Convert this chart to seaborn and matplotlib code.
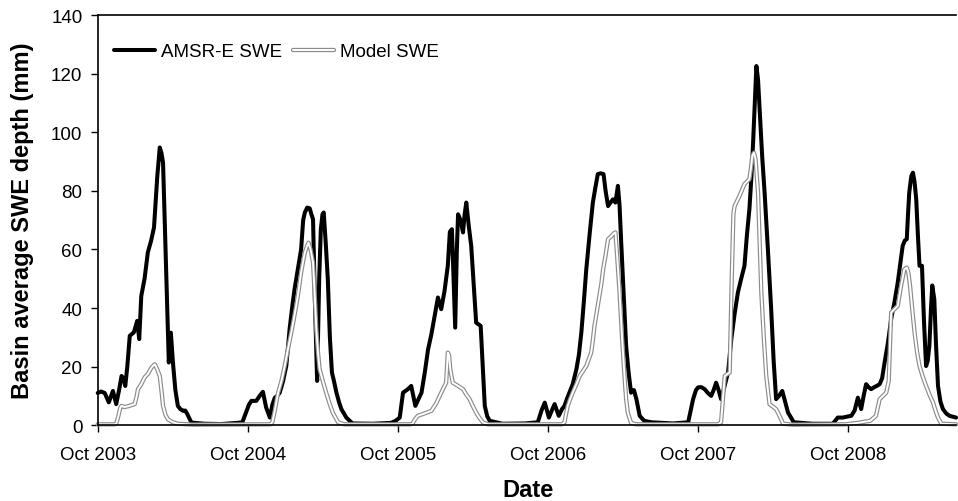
import pandas as pd
import matplotlib
matplotlib.use('Agg')
import matplotlib.pyplot as plt
import matplotlib.patheffects as pe
import seaborn as sns

# hari sejak 1 Okt 2003 dan nilai SWE rata-rata DAS (mm)
amsr_day = [0, 8, 17, 27, 37, 45, 52, 58, 63, 67, 72, 78, 88, 96, 101, 106, 114, 122, 130, 137,
            145, 151, 155, 159, 163, 167, 173, 178, 183, 189, 195, 201, 208, 213, 218, 228, 260, 300,
            340, 352,
            360, 368, 374, 386, 394, 402, 410, 419, 425, 431, 437, 443, 451, 459, 467, 473, 479, 487,
            495, 500, 504, 510, 516, 520, 524, 529, 534, 539, 543, 547, 550, 555, 560, 565, 570, 575,
            581, 587, 593, 605, 620, 670, 714, 725,
            735, 743, 755, 763, 773, 788, 796, 804, 812, 820, 828, 836, 844, 852, 857, 862, 866, 870,
            874, 877, 883, 889, 893, 897, 903, 909, 915, 921, 926, 932, 937, 942, 948, 954, 985, 1040,
            1071, 1080,
            1088, 1098, 1105, 1112, 1122, 1130, 1136, 1142, 1148, 1156, 1165, 1171, 1177, 1183, 1189,
            1197, 1205, 1211, 1217, 1224, 1231, 1236, 1242, 1248, 1254, 1260, 1266, 1270, 1274, 1280,
            1286, 1292, 1298, 1305, 1311, 1319, 1330, 1347, 1400, 1437,
            1449, 1456, 1461, 1469, 1477, 1485, 1493, 1499, 1505, 1511, 1517, 1525, 1534, 1542, 1550,
            1558, 1566, 1574, 1580, 1586, 1591, 1595, 1599, 1603, 1607, 1611, 1617, 1623, 1631, 1639,
            1645, 1651, 1658, 1666, 1673, 1680, 1694, 1740, 1789, 1801, 1813,
            1826, 1834, 1842, 1850, 1858, 1864, 1870, 1876, 1882, 1890, 1897, 1903, 1909, 1915, 1923,
            1931, 1939, 1947, 1953, 1959, 1964, 1969, 1972, 1975, 1980, 1984, 1988, 1992, 1996, 2000,
            2006, 2011, 2016, 2020, 2024, 2028, 2031, 2036, 2040, 2045, 2051, 2057, 2065, 2073, 2089]
amsr_swe = [11, 11.5, 11, 7.8, 11.7, 7.2, 12, 16.8, 16, 13.4, 20, 30.5, 31.7, 35.6, 29.4, 44.1, 50, 59, 63, 67.5,
            85, 94.8, 93, 89.6, 70, 49.8, 21.4, 31.6, 21.5, 12, 6.6, 5.5, 4.9, 5, 3.8, 0.9, 0.5, 0.4,
            0.8, 1,
            4, 7, 8.3, 8.3, 10, 11.4, 6, 2.6, 7, 9.4, 10, 11.1, 15, 20.3, 32.8, 40, 46.4, 53.2,
            60, 70, 72.6, 74.3, 74, 72, 70.3, 40, 15.1, 50, 66.9, 72, 72.6, 62, 49.8, 30, 18, 15,
            11.1, 8, 5.5, 2.6, 0.6, 0.5, 0.8, 1.5,
            2.6, 11.1, 12.3, 13.4, 6.6, 11.1, 18, 25.9, 31, 37.3, 43.6, 39.6, 45.8, 54.4, 66, 66.9, 50, 33.3,
            60, 72, 70, 65.8, 72, 76, 68, 61.2, 48, 35, 34.5, 33.9, 20, 6.6, 3, 1.5, 0.5, 0.6,
            1, 5,
            7.7, 2.6, 5, 7.2, 3.2, 5.5, 6.6, 9, 11.1, 14, 19.1, 24, 31.6, 42, 53.2,
            65, 76, 81, 85.7, 86, 85.7, 80, 74.8, 76, 77.1, 76, 81.7, 75, 62.4, 45,
            27.1, 18, 11.1, 12, 8.9, 3.2, 1.5, 1, 0.6, 1,
            8.9, 12, 12.9, 13, 12.3, 11, 10, 12, 14.5, 12, 8.9, 13, 18, 29.4, 38,
            45.3, 50, 54.4, 65, 73.7, 85, 96.5, 110, 122.6, 118, 107.8, 92, 79.4, 60, 39.6,
            22, 8.9, 10, 11.7, 8, 4.3, 1, 0.5, 0.5, 2.6, 2.6,
            3, 3.2, 5, 9.4, 5.5, 10, 14, 13, 12.3, 13, 13.5, 14, 16, 21.4, 28,
            36.2, 42, 48.7, 55, 61.2, 63, 63.5, 72, 79.4, 85, 86.2, 83, 77.1, 65, 54.4,
            54.4, 35, 20.2, 22, 27.1, 40, 47.7, 43, 28, 13.4, 8, 5.5, 4, 3.2, 2.6]

model_day = [0, 40, 45, 50, 55, 58, 65, 75, 85, 90, 95, 98, 106, 114, 122, 131, 135, 139, 145, 151,
             155, 159, 165, 171, 183, 195, 230,
             420, 425, 431, 439, 447, 455, 463, 471, 477, 483, 489, 495, 500, 504, 509, 513, 518, 524,
             528, 532, 536, 540, 548, 556, 564, 572, 585, 600,
             760, 766, 772, 779, 795, 812, 824, 836, 848, 850, 852, 855, 858, 864, 876, 889, 897, 905,
             913, 921, 929, 937, 950,
             1130, 1136, 1140, 1144, 1150, 1156, 1165, 1173, 1181, 1189, 1195, 1201, 1205, 1209, 1215,
             1221, 1226, 1230, 1236, 1242, 1250, 1256, 1260, 1265, 1270, 1276, 1282, 1286, 1290, 1298,
             1310,
             1510, 1517, 1521, 1526, 1538, 1543, 1547, 1550, 1562, 1574, 1586, 1590, 1593, 1597, 1601,
             1607, 1611, 1615, 1621, 1627, 1635, 1651, 1660, 1668, 1690,
             1820, 1850, 1880, 1894, 1903, 1919, 1925, 1927, 1931, 1947, 1955, 1963, 1969, 1973, 1977,
             1982, 1988, 1994, 2000, 2008, 2016, 2024, 2033, 2040, 2045, 2053, 2089]
model_swe = [0.3, 0.3, 0.5, 3, 6, 6.6, 6.2, 6.5, 7, 7.2, 10, 12.3, 14, 16.3, 17.5, 19.7, 20.3, 20.8, 19, 16.8,
             12, 6.6, 3.5, 2, 1, 0.5, 0.2,
             0.3, 1, 5, 11.1, 15, 20.2, 26, 31.6, 36, 40.7, 46, 52.1, 56, 58.9, 61, 62.3, 60, 55.5,
             45, 32.8, 25, 19.1, 15, 11.1, 7.5, 4.3, 1, 0.3,
             0.3, 0.5, 2, 3.2, 4, 4.9, 7.5, 11.1, 14.5, 20, 24.8, 24, 19.1, 14.5, 13.5, 12.3, 10.5, 8.9,
             6.5, 4.3, 2.5, 1, 0.3,
             0.3, 1, 4, 6.6, 9, 11.1, 14, 16.8, 18.5, 20.2, 22.5, 24.8, 29, 33.9, 39,
             44.1, 48.5, 53.2, 58, 63.5, 64.5, 65.5, 65.8, 56, 45.3, 30, 16.8, 9, 4.3, 0.8,
             0.3,
             0.3, 1, 8, 16.8, 18, 50, 72, 74.8, 78.3, 82.3, 84, 88, 91.9, 93, 90.8,
             79.4, 62, 45.3, 30, 16.8, 7.2, 5.5, 3, 0.5, 0.2,
             0.3, 0.8, 1.5, 3.2, 8.9, 11.1, 15, 22.5, 38.5, 40.7, 47.5, 53.2, 53.8, 52, 47.5,
             40, 31.6, 25, 20.2, 16.5, 13.4, 10.5, 7.7, 4.5, 2.6, 0.5, 0.3]

start = pd.Timestamp('2003-10-01')
tick_dates = pd.to_datetime(['2003-10-01', '2004-10-01', '2005-10-01',
                             '2006-10-01', '2007-10-01', '2008-10-01'])
tick_labels = ['Oct 2003', 'Oct 2004', 'Oct 2005', 'Oct 2006', 'Oct 2007', 'Oct 2008']

amsr = pd.DataFrame({'Date': start + pd.to_timedelta(amsr_day, unit='D'), 'SWE': amsr_swe})
model = pd.DataFrame({'Date': start + pd.to_timedelta(model_day, unit='D'), 'SWE': model_swe})

sns.set_style('ticks')
plt.rcParams['font.family'] = ['Liberation Sans', 'DejaVu Sans']
plt.rcParams.update({'text.color': 'black', 'axes.labelcolor': 'black',
                     'xtick.color': 'black', 'ytick.color': 'black'})

fig, ax = plt.subplots(figsize=(9.58, 5.02), dpi=100)
fig.subplots_adjust(left=0.102, right=0.998, top=0.968, bottom=0.151)

sns.lineplot(data=amsr, x='Date', y='SWE', ax=ax, color='black', linewidth=2.9,
             label='AMSR-E SWE', clip_on=False)
# garis ganda seperti di Excel: abu-abu di luar, putih di dalam
sns.lineplot(data=model, x='Date', y='SWE', ax=ax, color='white', linewidth=1.4,
             label='Model SWE', clip_on=False,
             path_effects=[pe.Stroke(linewidth=3.1, foreground='#8c8c8c'), pe.Normal()])

ax.set_ylim(0, 140)
ax.set_yticks(range(0, 141, 20))
ax.set_xlim(start, pd.Timestamp('2009-06-20'))
ax.set_xticks(tick_dates)
ax.set_xticklabels(tick_labels)
ax.tick_params(axis='both', labelsize=13.5, length=5, width=1, direction='out', color='black')
ax.tick_params(axis='x', pad=10)
ax.tick_params(axis='y', pad=6)

ax.spines['right'].set_visible(False)
for s in ['left', 'top', 'bottom']:
    ax.spines[s].set_color('black')
    ax.spines[s].set_linewidth(1.2)

ax.set_ylabel('Basin average SWE depth (mm)', fontsize=17, fontweight='bold')
ax.set_xlabel('Date', fontsize=17, fontweight='bold')
ax.yaxis.set_label_coords(-0.074, 0.5)
ax.xaxis.set_label_coords(0.501, -0.128)

ax.legend(loc='upper left', bbox_to_anchor=(0.01, 0.95), ncol=2, frameon=False,
          fontsize=13.5, handlelength=2.2, handletextpad=0.3, columnspacing=0.6,
          borderaxespad=0)

plt.savefig('out.png', dpi=100)
